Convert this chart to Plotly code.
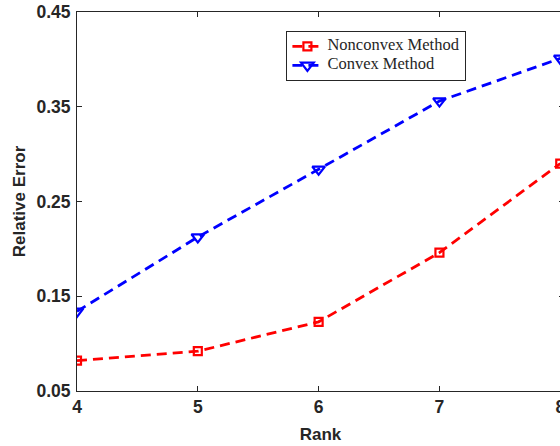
import plotly.graph_objects as go

ranks = [4, 5, 6, 7, 8]
nonconvex = [0.082, 0.092, 0.123, 0.196, 0.290]
convex = [0.134, 0.2125, 0.284, 0.356, 0.401]
y_ticks = [0.05, 0.15, 0.25, 0.35, 0.45]
y_tick_labels = ["0.05", "0.15", "0.25", "0.35", "0.45"]
x_tick_labels = ["4", "5", "6", "7", "8"]
series_names = ["Nonconvex Method", "Convex Method"]

legend_span = "<span style='font-size:16.5px'>%s</span>"

fig = go.Figure()
fig.add_trace(go.Scatter(
    x=ranks, y=nonconvex, mode="lines+markers", name=legend_span % series_names[0],
    line=dict(color="#ff0000", width=2.8, dash="10px,6px", shape="linear"),
    marker=dict(symbol="square-open", size=8, color="#ff0000", line=dict(width=2.2))))
fig.add_trace(go.Scatter(
    x=ranks, y=convex, mode="lines+markers", name=legend_span % series_names[1],
    line=dict(color="#0000ff", width=2.8, dash="10px,6px", shape="linear"),
    marker=dict(symbol="triangle-down-open", size=11, color="#0000ff", line=dict(width=2.2))))

tick_font = dict(family="Liberation Sans, Arial", size=17.5, color="#262626")
title_font = dict(family="Liberation Sans, Arial", size=17, color="#262626")
axis_common = dict(showgrid=False, zeroline=False, showline=True, linecolor="#262626",
                   linewidth=1, mirror="ticks", ticks="inside", ticklen=5, tickcolor="#262626",
                   tickfont=tick_font, ticklabeloverflow="allow")

fig.update_layout(
    width=564, height=446,
    margin=dict(l=77, r=0, t=12, b=55),
    paper_bgcolor="white", plot_bgcolor="white",
    xaxis=dict(range=[4, 8.031], tickvals=ranks, ticktext=["<b>%s</b>" % t for t in x_tick_labels],
               title=dict(text="<b>Rank</b>", font=title_font, standoff=12),
               **axis_common),
    yaxis=dict(range=[0.05, 0.45], tickvals=y_ticks, ticktext=["<b>%s</b>" % t for t in y_tick_labels],
               ticklabelstandoff=2,
               title=dict(text="<b>Relative Error</b>", font=title_font, standoff=6),
               **axis_common),
    legend=dict(x=0.43, y=0.95, xanchor="left", yanchor="top",
                bgcolor="white", bordercolor="#262626", borderwidth=1,
                font=dict(family="Liberation Serif, DejaVu Serif", size=10, color="#262626"),
                tracegroupgap=0, itemwidth=30),
    showlegend=True,
)

post = ("document.documentElement.style.margin='0';document.documentElement.style.overflow='hidden';"
        "document.body.style.margin='0';document.body.style.overflow='hidden';")
fig.write_html("out.html", post_script=post, config={"displayModeBar": False})
